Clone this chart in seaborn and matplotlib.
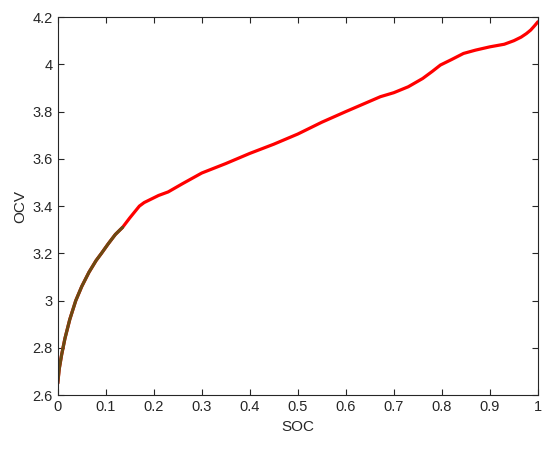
import numpy as np
import pandas as pd
import matplotlib
matplotlib.use("Agg")
import matplotlib.pyplot as plt
import seaborn as sns

# SOC-OCV curve
soc = [0.0, 0.003, 0.008, 0.015, 0.025, 0.0375, 0.05, 0.065, 0.08, 0.091, 0.105,
       0.12, 0.135, 0.15, 0.16, 0.17, 0.18, 0.195, 0.21, 0.23, 0.26, 0.30, 0.35,
       0.40, 0.45, 0.50, 0.55, 0.60, 0.64, 0.672, 0.70, 0.73, 0.76, 0.78, 0.797,
       0.82, 0.845, 0.87, 0.90, 0.93, 0.95, 0.965, 0.976, 0.985, 0.993, 1.0]
ocv = [2.65, 2.71, 2.77, 2.84, 2.92, 3.00, 3.06, 3.12, 3.17, 3.20, 3.24,
       3.28, 3.31, 3.35, 3.375, 3.40, 3.415, 3.43, 3.445, 3.46, 3.495, 3.54, 3.58,
       3.623, 3.662, 3.705, 3.755, 3.80, 3.835, 3.863, 3.88, 3.905, 3.94, 3.97, 3.997,
       4.02, 4.046, 4.06, 4.074, 4.085, 4.10, 4.115, 4.13, 4.145, 4.163, 4.18]

# early part drawn a second time in a dark olive colour
soc_low_end = 0.135

xticks = [0, 0.1, 0.2, 0.3, 0.4, 0.5, 0.6, 0.7, 0.8, 0.9, 1]
yticks = [2.6, 2.8, 3.0, 3.2, 3.4, 3.6, 3.8, 4.0, 4.2]

df = pd.DataFrame({"SOC": soc, "OCV": ocv})
df_low = df[df["SOC"] <= soc_low_end]

sns.set_style("white")
plt.rcParams["font.family"] = ["Liberation Sans", "DejaVu Sans"]

fig = plt.figure(figsize=(5.5, 4.49), dpi=100)
ax = fig.add_axes([0.105, 0.12, 0.873, 0.842])

sns.lineplot(data=df, x="SOC", y="OCV", ax=ax, color="#ff0000", linewidth=2.3)
sns.lineplot(data=df_low, x="SOC", y="OCV", ax=ax, color="#6b4a12", linewidth=2.3)

ax.set_xlim(0, 1)
ax.set_ylim(2.6, 4.2)
ax.set_xticks(xticks)
ax.set_xticklabels([f"{t:g}" for t in xticks])
ax.set_yticks(yticks)
ax.set_yticklabels([f"{t:g}" for t in yticks])
ax.set_xlabel("SOC", fontsize=11)
ax.set_ylabel("OCV", fontsize=11)
ax.tick_params(direction="in", length=4, width=0.8, labelsize=10.5,
               top=True, right=True, bottom=True, left=True, colors="#262626")
for sp in ax.spines.values():
    sp.set_color("#262626")
    sp.set_linewidth(0.8)

fig.savefig("out.png", dpi=100)
